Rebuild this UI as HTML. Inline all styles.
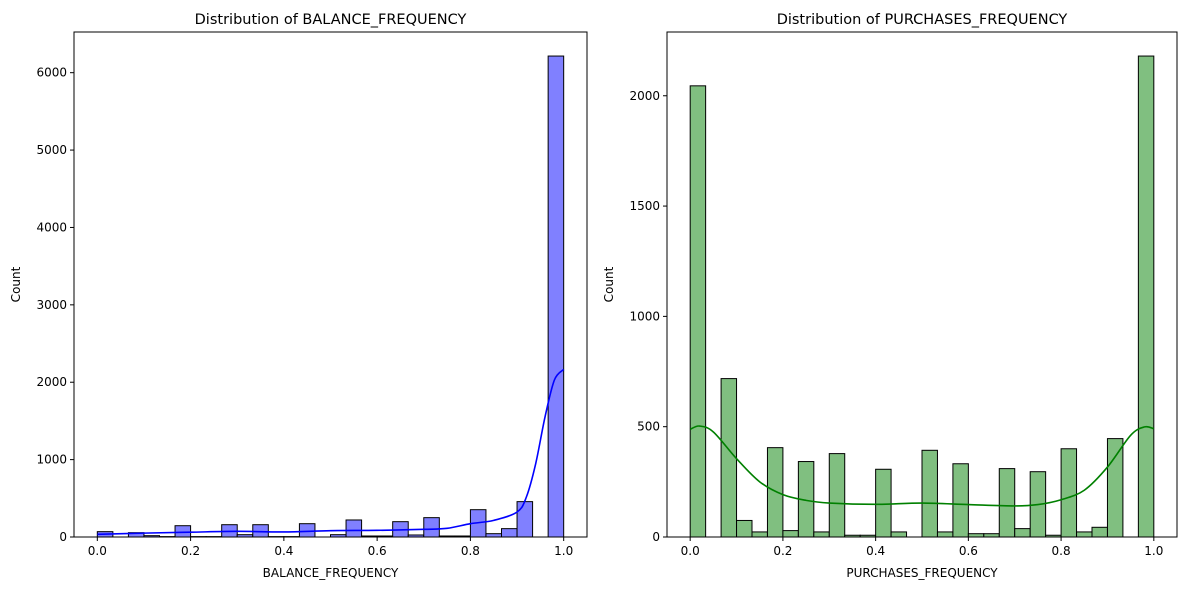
<!DOCTYPE html>
<html><head><meta charset="utf-8"><style>
body{margin:0;background:#fff;font-family:"Liberation Sans","DejaVu Sans",sans-serif;}
svg text{font-family:"DejaVu Sans","Liberation Sans",sans-serif;}
</style></head><body>
<svg id="c" width="1189" height="590" xmlns="http://www.w3.org/2000/svg"></svg>
<script>
const binCount = 30;
const balanceCounts = [69,0,56,17,5,146,5,5,159,30,159,5,5,172,0,30,220,13,13,198,26,250,13,13,353,43,108,457,0,6215];
const purchasesCounts = [2045,0,718,75,23,405,29,342,23,378,8,8,307,23,0,393,23,332,15,15,310,38,296,8,400,23,44,446,0,2180];
const balanceKdeX = [0,0.1,0.2,0.3,0.4,0.5,0.6,0.7,0.75,0.8,0.85,0.9,0.92,0.94,0.96,0.98,1.0];
const balanceKdeY = [35,50,62,73,65,82,86,99,112,172,215,323,517,948,1552,2027,2165];
const purchasesKdeX = [0,0.02,0.05,0.1,0.15,0.2,0.25,0.3,0.4,0.5,0.6,0.7,0.75,0.8,0.85,0.9,0.95,0.98,1.0];
const purchasesKdeY = [488,503,476,355,250,192,166,154,148,154,147,141,147,169,212,317,461,499,491];
const balanceYTicks = [0,1000,2000,3000,4000,5000,6000];
const purchasesYTicks = [0,500,1000,1500,2000];
const xTicks = [0,0.2,0.4,0.6,0.8,1.0];

const NS="http://www.w3.org/2000/svg";
const svg=document.getElementById('c');
function mk(tag,attrs,parent){const e=document.createElementNS(NS,tag);for(const k in attrs)e.setAttribute(k,attrs[k]);(parent||svg).appendChild(e);return e;}

function panel(o){
  const g=mk('g',{});
  
  
  const L=o.left,R=o.right,T=32,B=537;
  const ymax=Math.max(...o.counts)*1.05;
  const xs=v=>L+(v+0.05)/1.1*(R-L);
  const ys=v=>B-v/ymax*(B-T);
  const bw=1/binCount;
  o.counts.forEach((c,i)=>{
    if(c<=0)return;
    const x0=xs(i*bw),x1=xs((i+1)*bw);
    const r=mk('rect',{x:x0,y:ys(c),width:x1-x0,height:B-ys(c),fill:o.fill,stroke:'#000','stroke-width':1},g);
    
    
  });
  const pts=o.kx.map((x,i)=>[xs(x),ys(o.ky[i])]);
  let d=`M${pts[0][0]},${pts[0][1]}`;
  for(let i=0;i<pts.length-1;i++){
    const p0=pts[Math.max(0,i-1)],p1=pts[i],p2=pts[i+1],p3=pts[Math.min(pts.length-1,i+2)];
    const c1=[p1[0]+(p2[0]-p0[0])/6,p1[1]+(p2[1]-p0[1])/6];
    const c2=[p2[0]-(p3[0]-p1[0])/6,p2[1]-(p3[1]-p1[1])/6];
    d+=` C${c1[0]},${c1[1]} ${c2[0]},${c2[1]} ${p2[0]},${p2[1]}`;
  }
  const k=mk('path',{d:d,fill:'none',stroke:o.line,'stroke-width':1.6},g);
  
  
  const fr=mk('rect',{x:L,y:T,width:R-L,height:B-T,fill:'none',stroke:'#000','stroke-width':1},g);
  
  
  xTicks.forEach(t=>{
    const x=xs(t);
    mk('line',{x1:x,x2:x,y1:B,y2:B+4,stroke:'#000'},g);
    const tx=mk('text',{x:x,y:B+18,'font-size':12,'text-anchor':'middle'},g);
    tx.textContent=t.toFixed(1);
    
    
  });
  o.yt.forEach(t=>{
    const y=ys(t);
    mk('line',{x1:L-4,x2:L,y1:y,y2:y,stroke:'#000'},g);
    const tx=mk('text',{x:L-7,y:y+4,'font-size':12,'text-anchor':'end'},g);
    tx.textContent=t;
    
    
  });
  const ti=mk('text',{x:(L+R)/2,y:24,'font-size':14.5,'text-anchor':'middle'},g);
  ti.textContent=o.title;
  
  
  const xl=mk('text',{x:(L+R)/2,y:577,'font-size':12,'text-anchor':'middle'},g);
  xl.textContent=o.xlabel;
  
  
  const yl=mk('text',{x:0,y:0,'font-size':12,'text-anchor':'middle',transform:`translate(${o.ylx},${(T+B)/2}) rotate(-90)`},g);
  yl.textContent='Count';
  
  
}
panel({name:'balance-frequency-chart',left:74,right:587,counts:balanceCounts,kx:balanceKdeX,ky:balanceKdeY,fill:'#8080ff',line:'#0000ff',yt:balanceYTicks,title:'Distribution of BALANCE_FREQUENCY',xlabel:'BALANCE_FREQUENCY',ylx:20});
panel({name:'purchases-frequency-chart',left:667,right:1177,counts:purchasesCounts,kx:purchasesKdeX,ky:purchasesKdeY,fill:'#80bf80',line:'#008000',yt:purchasesYTicks,title:'Distribution of PURCHASES_FREQUENCY',xlabel:'PURCHASES_FREQUENCY',ylx:613});
</script>
</body></html>
